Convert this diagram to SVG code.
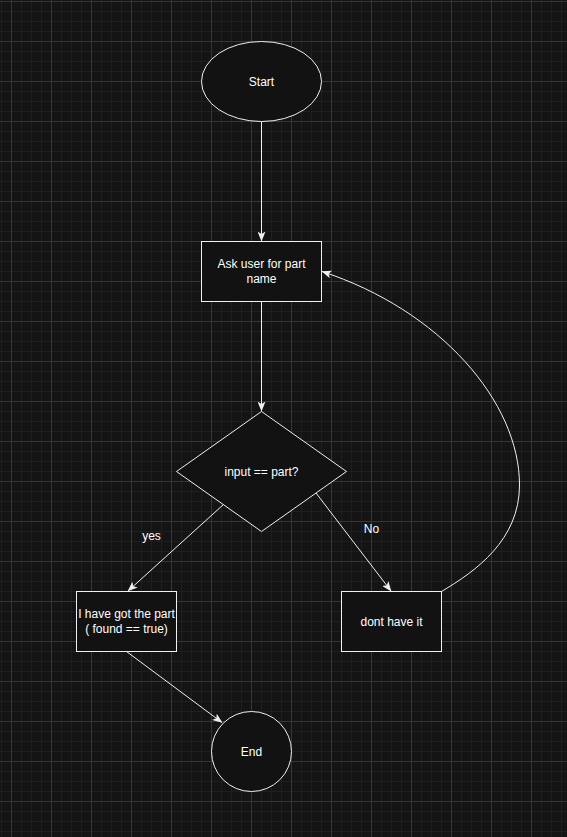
<svg xmlns="http://www.w3.org/2000/svg" width="567" height="837" viewBox="0 0 567 837">
<defs>
<pattern id="grid" x="11" y="1" width="40" height="40" patternUnits="userSpaceOnUse">
<path d="M10.5,0V40M20.5,0V40M30.5,0V40M0,10.5H40M0,20.5H40M0,30.5H40" stroke="#1f1f1f" stroke-width="1" fill="none"/>
<path d="M0.5,0V40M0,0.5H40" stroke="#363636" stroke-width="1" fill="none"/>
</pattern>
<marker id="arr" viewBox="0 0 10 8" refX="9.5" refY="4" markerWidth="10" markerHeight="8" markerUnits="userSpaceOnUse" orient="auto">
<path d="M0,0 L10,4 L0,8 L2.5,4 Z" fill="#f0f0f0"/>
</marker>
<style>
.node{fill:#121212;stroke:#f0f0f0;stroke-width:1}
.lbl{fill:#ffffff;font-family:"Liberation Sans",Arial,sans-serif;font-size:12px;text-anchor:middle;dominant-baseline:central}
.edge{fill:none;stroke:#f0f0f0;stroke-width:1;marker-end:url(#arr)}
</style>
</defs>
<rect width="567" height="837" fill="#141414"/>
<rect width="567" height="837" fill="url(#grid)"/>
<g id="connectors">
<path class="edge" d="M261.5,121.5V241"/>
<path class="edge" d="M261.5,301.5V411"/>
<path class="edge" d="M223.5,504.5L128,591"/>
<path class="edge" d="M316,493L391,591"/>
<path class="edge" d="M126.5,651.5L222,722.5"/>
<path class="edge" d="M441.5,591.5C476,571 519.5,540 519.5,485C519.5,402 440,310 322,271.5"/>
<text class="lbl" x="151.5" y="536">yes</text>
<text class="lbl" x="371.5" y="529">No</text>
</g>
<g id="start">
<ellipse class="node" cx="261.5" cy="81.5" rx="60" ry="40"/>
<text class="lbl" x="261.5" y="81.5">Start</text>
</g>
<g id="ask">
<rect class="node" x="201.5" y="241.5" width="120" height="60"/>
<text class="lbl" x="261.5" y="264">Ask user for part</text>
<text class="lbl" x="261.5" y="279">name</text>
</g>
<g id="decision">
<path class="node" d="M261.5,411.5L346.5,471.5L261.5,531.5L176.5,471.5Z"/>
<text class="lbl" x="261.5" y="471.5">input == part?</text>
</g>
<g id="found">
<rect class="node" x="76.5" y="591.5" width="100" height="60"/>
<text class="lbl" x="126.5" y="614">I have got the part</text>
<text class="lbl" x="126.5" y="629">( found == true)</text>
</g>
<g id="notfound">
<rect class="node" x="341.5" y="591.5" width="100" height="60"/>
<text class="lbl" x="391.5" y="621.5">dont have it</text>
</g>
<g id="end">
<circle class="node" cx="251.5" cy="751.5" r="40"/>
<text class="lbl" x="251.5" y="751.5">End</text>
</g>
</svg>
